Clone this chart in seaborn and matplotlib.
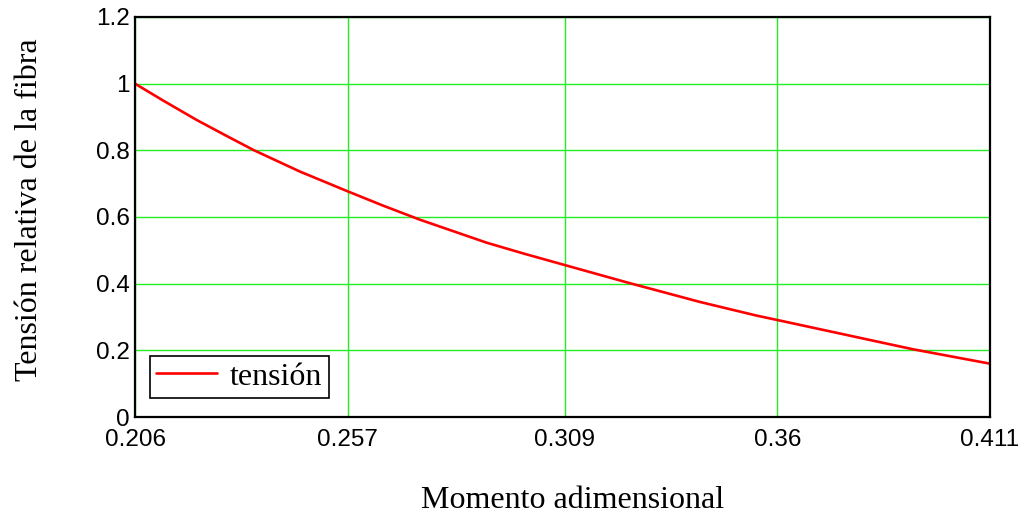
import matplotlib
matplotlib.use("Agg")
import matplotlib.pyplot as plt
import seaborn as sns
import pandas as pd
from matplotlib.ticker import FuncFormatter

momento = [0.206, 0.2128, 0.2208, 0.228, 0.2344, 0.2456, 0.257, 0.2655, 0.2743, 0.2903,
           0.299, 0.309, 0.3239, 0.3415, 0.3551, 0.360, 0.3774, 0.3926, 0.411]
tension = [1.000, 0.949, 0.891, 0.843, 0.801, 0.736, 0.677, 0.634, 0.592, 0.523,
           0.491, 0.456, 0.404, 0.345, 0.304, 0.291, 0.244, 0.203, 0.160]
x_ticks = [0.206, 0.257, 0.309, 0.36, 0.411]
y_ticks = [0, 0.2, 0.4, 0.6, 0.8, 1.0, 1.2]

sns.set_theme(style="white")
plt.rcParams['font.family'] = ['Liberation Sans', 'DejaVu Sans']
plt.rcParams['text.color'] = 'black'

df = pd.DataFrame({"momento": momento, "tension": tension})

fig = plt.figure(figsize=(10.26, 5.18), dpi=100)
ax = fig.add_axes([135/1026, 1-417/518, 855/1026, 400/518])

sns.lineplot(data=df, x="momento", y="tension", ax=ax, color="#ff0000", linewidth=1.9, label="tensión")

ax.set_xlim(0.206, 0.411)
ax.set_ylim(0, 1.2)
ax.set_xticks(x_ticks)
ax.set_yticks(y_ticks)
ax.xaxis.set_major_formatter(FuncFormatter(lambda v, p: f"{v:g}"))
ax.yaxis.set_major_formatter(FuncFormatter(lambda v, p: f"{v:g}"))
ax.grid(True, color="#22ee22", linewidth=1.0)
ax.set_axisbelow(True)
for s in ax.spines.values():
    s.set_color("black")
    s.set_linewidth(1.6)
    s.set_visible(True)
ax.tick_params(axis="both", length=0, labelsize=17.5, colors="black")
ax.tick_params(axis="x", pad=9)
ax.tick_params(axis="y", pad=4)

ax.set_xlabel("Momento adimensional", family="Liberation Serif", fontsize=23, color="black")
ax.set_ylabel("Tensión relativa de la fibra", family="Liberation Serif", fontsize=23, color="black")
ax.xaxis.set_label_coords((573 - 135) / 855, (417 - 500) / 400)
ax.yaxis.set_label_coords((30 - 135) / 855, (417 - 210) / 400)
ax.xaxis.label.set_va("center")
ax.yaxis.label.set_va("center")

leg = ax.legend(loc="lower left", bbox_to_anchor=(0.0175, 0.0475), borderaxespad=0,
                prop={"family": "Liberation Serif", "size": 23}, frameon=True, fancybox=False,
                handlelength=1.9, borderpad=0.2, handletextpad=0.4, labelcolor="black")
leg.get_frame().set_edgecolor("black")
leg.get_frame().set_linewidth(1.2)
leg.get_frame().set_alpha(1)

fig.savefig("out.png", dpi=100)
